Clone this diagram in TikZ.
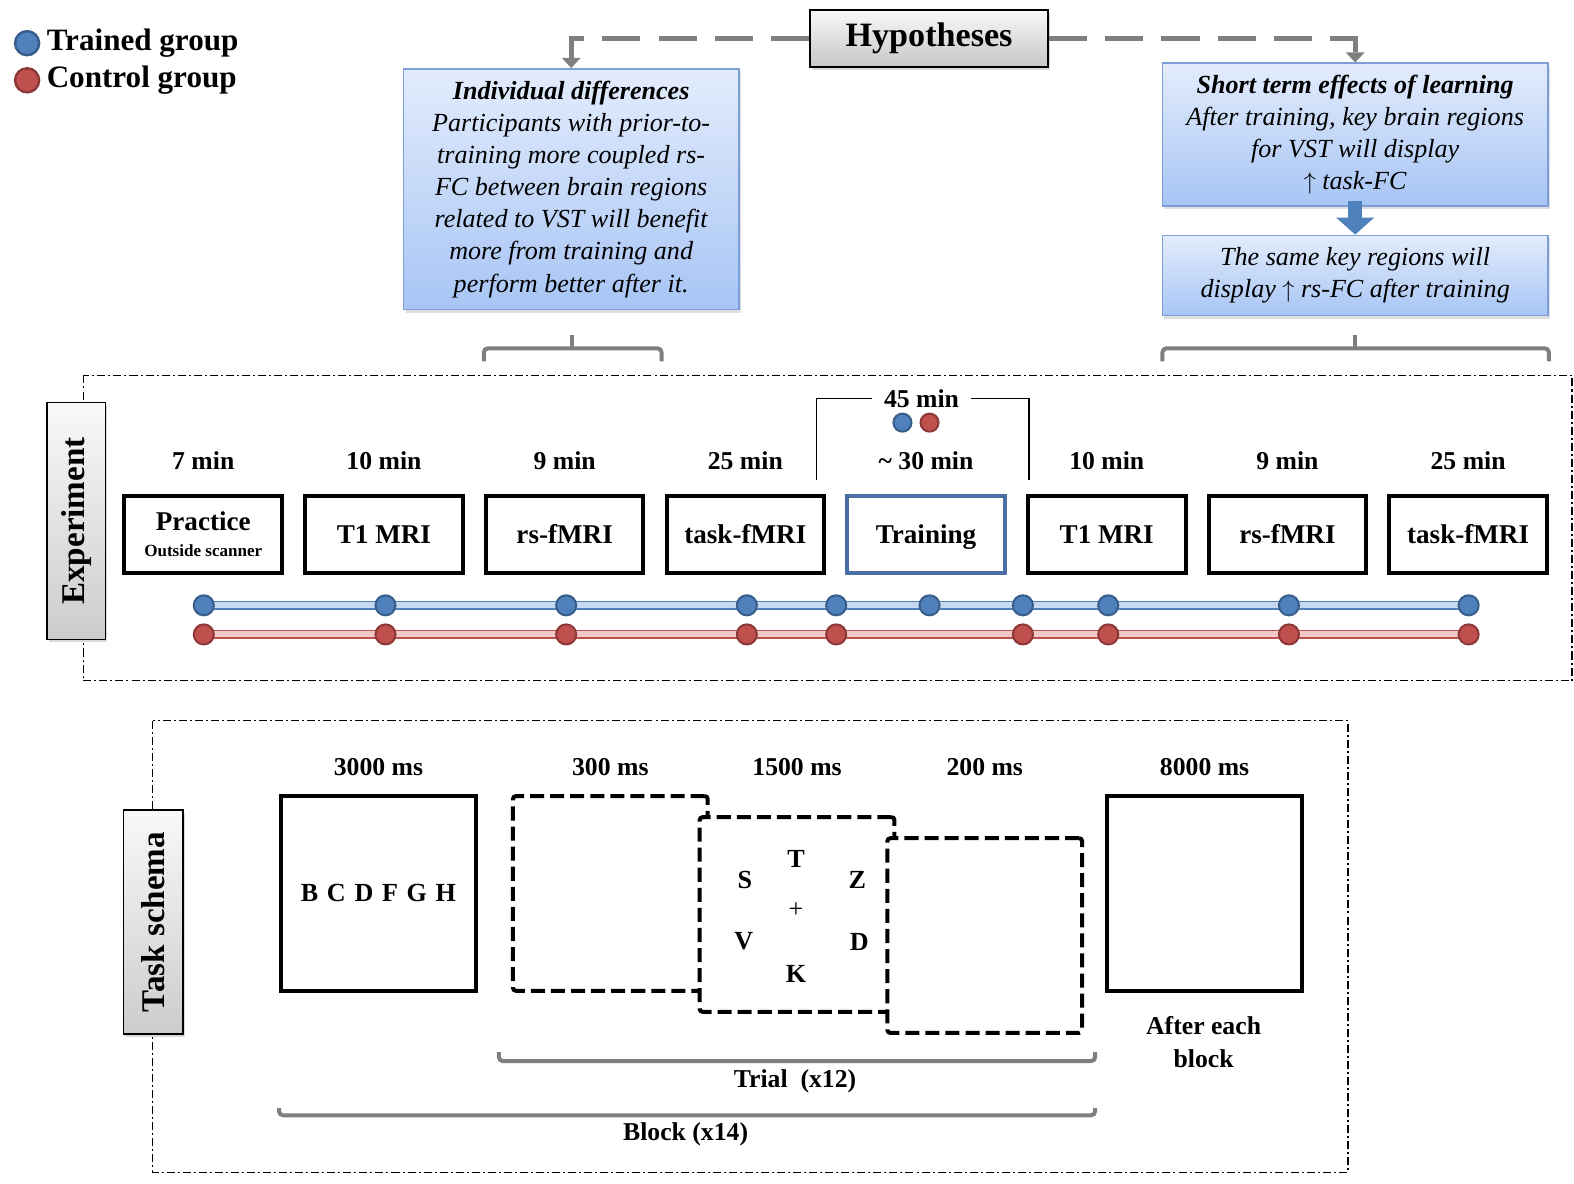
\documentclass[tikz,border=0pt]{standalone}
\usepackage{fontspec}
\setmainfont{Liberation Serif}
\usetikzlibrary{positioning,calc,arrows.meta,shadows,backgrounds}

\definecolor{dotblue}{HTML}{4F81BD}
\definecolor{dotbluedark}{HTML}{385D8A}
\definecolor{dotred}{HTML}{C0504D}
\definecolor{dotreddark}{HTML}{8C3836}
\definecolor{railblue}{HTML}{C6D9F1}
\definecolor{railred}{HTML}{F2C9C8}
\definecolor{hyptop}{HTML}{E3ECFC}
\definecolor{hypbot}{HTML}{A7C5F5}
\definecolor{hypline}{HTML}{7D9ED6}
\definecolor{trainline}{HTML}{4A6FA5}
\definecolor{linkgray}{HTML}{7F7F7F}

\tikzset{
  legdot/.style={circle, minimum size=12pt, inner sep=0pt, line width=1.2pt},
  legtext/.style={font=\fontsize{15.5}{17}\selectfont\bfseries, inner sep=0pt},
  hypbtn/.style={draw, line width=1pt, top color=gray!5, bottom color=gray!45,
    minimum width=118.5pt, minimum height=28.5pt, font=\fontsize{17}{19}\selectfont\bfseries,
    drop shadow={shadow xshift=1pt, shadow yshift=-1.5pt, opacity=0.3}},
  hypbox/.style={draw=hypline, line width=0.75pt, top color=hyptop, bottom color=hypbot,
    align=center, inner sep=2pt, font=\fontsize{13}{16}\selectfont\itshape,
    drop shadow={shadow xshift=1pt, shadow yshift=-1.5pt, opacity=0.25}},
  hyplink/.style={draw=linkgray, line width=2.5pt, dash pattern=on 19pt off 9pt,
    -{Triangle[width=9pt, length=5pt]}},
  fatarrow/.style={draw=dotblue, line width=7pt, -{Triangle[width=18.5pt, length=8.5pt]}},
  bracket/.style={draw=linkgray, line width=2pt, rounded corners=2pt},
  frame/.style={line width=0.7pt, dash pattern=on 4pt off 1.5pt on 1pt off 1.5pt},
  sidebox/.style={draw, line width=0.8pt, rotate=90, top color=gray!5, bottom color=gray!40,
    inner sep=0pt, font=\fontsize{16.5}{18}\selectfont\bfseries,
    drop shadow={shadow xshift=1pt, shadow yshift=-1.5pt, opacity=0.3}},
  stage/.style={draw, line width=2pt, minimum width=78.5pt, minimum height=38.5pt,
    align=center, inner sep=0pt, font=\fontsize{13.5}{15}\selectfont\bfseries},
  dur/.style={font=\fontsize{12.8}{16.5}\selectfont\bfseries, inner sep=0pt},
  tldot/.style={circle, minimum size=10pt, inner sep=0pt, line width=1pt},
  rail/.style={line width=0.6pt, double distance=3pt},
  span/.style={draw, line width=0.6pt},
  screen/.style={draw, line width=2pt, minimum size=97pt, fill=white, inner sep=0pt,
    font=\fontsize{13}{15}\selectfont\bfseries},
  blank/.style={screen, dash pattern=on 7pt off 3pt, rounded corners=1.5pt},
  letter/.style={font=\fontsize{13}{15}\selectfont\bfseries, inner sep=0pt}
}

\begin{document}
\begin{tikzpicture}[x=0.5pt, y=-0.5pt, node distance=9.5pt]
\useasboundingbox (0,0) rectangle (1568,1179);

% Legend
\node[legdot, fill=dotblue, draw=dotbluedark] (lb) at (27,43) {};
\node[legtext, right=3pt of lb] (lbt) {Trained group};
\node[legdot, fill=dotred, draw=dotreddark] (lr) at (27,80) {};
\node[legtext, right=3pt of lr] (lrt) {Control group};

% Hypotheses
\node[hypbtn] (hyp) at (925.5,38.5) {Hypotheses};
\node[hypbox, minimum width=167pt, minimum height=120pt] (idiff) at (569,188.5)
  {\textbf{Individual differences}\\ Participants with prior-to-\\ training more coupled rs-\\
   FC between brain regions\\ related to VST will benefit\\ more from training and\\ perform better after it.};
\node[hypbox, minimum width=192pt, minimum height=71pt] (short) at (1350,134)
  {\textbf{Short term effects of learning}\\ After training, key brain regions\\ for VST will display\\ $\uparrow$ task-FC};
\node[hypbox, minimum width=192pt, minimum height=40pt, below=14pt of short] (same)
  {The same key regions will\\ display $\uparrow$ rs-FC after training};

\draw[hyplink] (hyp.west) -| (idiff.north);
\draw[hyplink] (hyp.east) -| (short.north);
\draw[fatarrow] ($(short.south)+(0,-6)$) -- (same.north);

% Brackets under the hypotheses
\draw[bracket] (482,360) -- (482,347) -- (659,347) -- (659,360);
\draw[bracket] (570,347) -- (570,334);
\draw[bracket] (1158,360) -- (1158,347) -- (1543,347) -- (1543,360);
\draw[bracket] (1350,347) -- (1350,334);

% Experiment
\draw[frame] (83,374) rectangle (1566,678);
\node[sidebox, minimum width=118pt, minimum height=29pt] (exp) at (76,519) {Experiment};

\node[stage] (s1) at (202.5,532.5) {Practice\\[-2pt]{\fontsize{8.5}{10}\selectfont Outside scanner}};
\node[stage, right=of s1] (s2) {T1 MRI};
\node[stage, right=of s2] (s3) {rs-fMRI};
\node[stage, right=of s3] (s4) {task-fMRI};
\node[stage, draw=trainline, text depth=0pt, right=of s4] (s5) {Training};
\node[stage, right=of s5] (s6) {T1 MRI};
\node[stage, right=of s6] (s7) {rs-fMRI};
\node[stage, right=of s7] (s8) {task-fMRI};

\coordinate (minrow) at (0,459);
\foreach \i/\d in {1/7 min, 2/10 min, 3/9 min, 4/25 min, 5/{\textasciitilde{} 30 min}, 6/10 min, 7/9 min, 8/25 min}
  \node[dur] (d\i) at (s\i |- minrow) {\d};

\node[dur, inner xsep=6pt] (d45) at (918,397) {45 min};
\draw[span] (813,478) |- (d45.west);
\draw[span] (d45.east) -| (1025,478);
\node[tldot, minimum size=9pt, fill=dotblue, draw=dotbluedark] (gb) at (899,421) {};
\node[tldot, minimum size=9pt, fill=dotred, draw=dotreddark] (gr) at (926,421) {};

% Timelines
\foreach \x [count=\i] in {203,384,564,744,833,926,1019,1104,1284,1463}
  \node[tldot, fill=dotblue, draw=dotbluedark] (b\i) at (\x,603) {};
\foreach \x [count=\i] in {203,384,564,744,833,1019,1104,1284,1463}
  \node[tldot, fill=dotred, draw=dotreddark] (r\i) at (\x,632) {};
\begin{scope}[on background layer]
\draw[rail, draw=dotblue, double=railblue] (b1.center) -- (b10.center);
\draw[rail, draw=dotred, double=railred] (r1.center) -- (r9.center);
\end{scope}

% Task schema
\draw[frame] (152,718) rectangle (1343,1168);
\node[sidebox, minimum width=111.5pt, minimum height=29.5pt] (task) at (152.5,918.5) {Task schema};

\node[screen] (t1) at (377,890) {B\,\,C\,\,D\,\,F\,\,G\,\,H};
\node[blank] (t2) at (608,890) {};
\node[blank] (t3) at (794,911) {};
\node[blank] (t4) at (981,932) {};
\node[screen] (t5) at (1200,890) {};

\coordinate (msrow) at (0,764);
\foreach \i/\d in {1/3000 ms, 2/300 ms, 3/1500 ms, 4/200 ms, 5/8000 ms}
  \node[dur] (m\i) at (t\i |- msrow) {\d};

\foreach \l/\dx/\dy in {T/-1/-55, S/-52/-34, Z/60/-34, V/-53/27, D/62/27, K/-1/59}
  \node[letter] (l\l) at ($(t3)+(\dx,\dy)$) {\l};
\node[letter, font=\fontsize{13}{15}\selectfont] (fix) at ($(t3)+(-1,-4)$) {+};

\node[dur, align=center] (after) at (1199,1038) {After each\\block};

\draw[bracket] (497,1048) -- (497,1057) -- (1091,1057) -- (1091,1048);
\node[dur] (trial) at (792,1077) {Trial\enspace(x12)};
\draw[bracket] (278,1104) -- (278,1111) -- (1091,1111) -- (1091,1104);
\node[dur] (block) at (683,1130) {Block (x14)};
\end{tikzpicture}
\end{document}
